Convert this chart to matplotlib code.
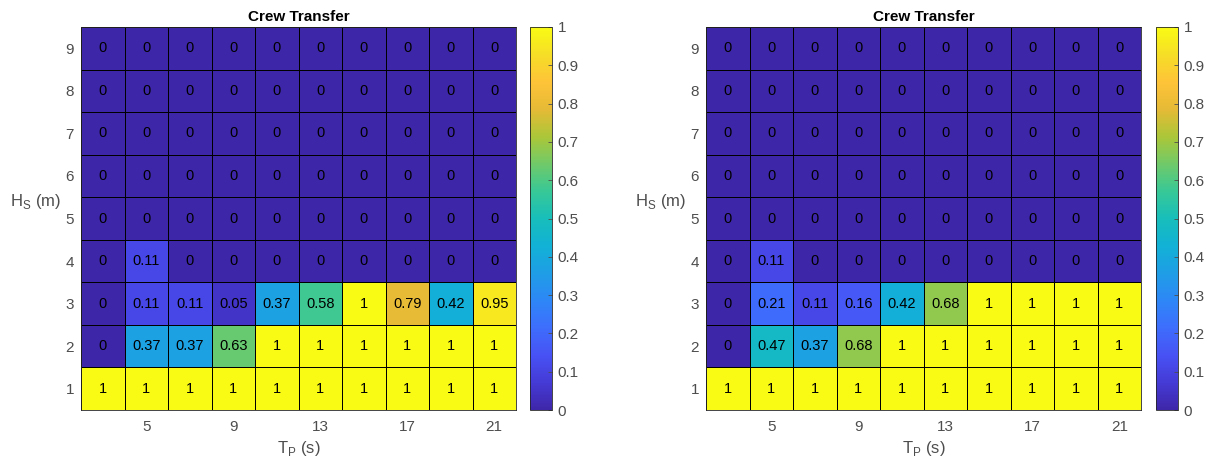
import numpy as np
import matplotlib
matplotlib.use("Agg")
import matplotlib.pyplot as plt
from matplotlib.colors import LinearSegmentedColormap

# ---- data ----
tp = [3, 5, 7, 9, 11, 13, 15, 17, 19, 21]          # T_P (s) columns
hs = [1, 2, 3, 4, 5, 6, 7, 8, 9]                   # H_S (m) rows
xticks = [5, 9, 13, 17, 21]
title = "Crew Transfer"

# rows from Hs=1 (bottom) upward
left_vals = [
    [1, 1, 1, 1, 1, 1, 1, 1, 1, 1],
    [0, 0.37, 0.37, 0.63, 1, 1, 1, 1, 1, 1],
    [0, 0.11, 0.11, 0.05, 0.37, 0.58, 1, 0.79, 0.42, 0.95],
    [0, 0.11, 0, 0, 0, 0, 0, 0, 0, 0],
    [0, 0, 0, 0, 0, 0, 0, 0, 0, 0],
    [0, 0, 0, 0, 0, 0, 0, 0, 0, 0],
    [0, 0, 0, 0, 0, 0, 0, 0, 0, 0],
    [0, 0, 0, 0, 0, 0, 0, 0, 0, 0],
    [0, 0, 0, 0, 0, 0, 0, 0, 0, 0],
]
right_vals = [
    [1, 1, 1, 1, 1, 1, 1, 1, 1, 1],
    [0, 0.47, 0.37, 0.68, 1, 1, 1, 1, 1, 1],
    [0, 0.21, 0.11, 0.16, 0.42, 0.68, 1, 1, 1, 1],
    [0, 0.11, 0, 0, 0, 0, 0, 0, 0, 0],
    [0, 0, 0, 0, 0, 0, 0, 0, 0, 0],
    [0, 0, 0, 0, 0, 0, 0, 0, 0, 0],
    [0, 0, 0, 0, 0, 0, 0, 0, 0, 0],
    [0, 0, 0, 0, 0, 0, 0, 0, 0, 0],
    [0, 0, 0, 0, 0, 0, 0, 0, 0, 0],
]

# ---- parula-like colormap ----
parula_anchors = [
    (0.000, (0.2422, 0.1504, 0.6603)),
    (0.071, (0.2700, 0.2300, 0.8400)),
    (0.143, (0.2810, 0.3228, 0.9579)),
    (0.214, (0.2400, 0.4300, 0.9900)),
    (0.286, (0.1786, 0.5289, 0.9682)),
    (0.357, (0.1200, 0.6200, 0.9000)),
    (0.429, (0.0689, 0.6948, 0.8394)),
    (0.500, (0.0900, 0.7450, 0.7300)),
    (0.571, (0.2161, 0.7843, 0.5923)),
    (0.643, (0.4400, 0.7900, 0.4100)),
    (0.714, (0.6720, 0.7793, 0.2227)),
    (0.786, (0.9000, 0.7300, 0.2100)),
    (0.857, (0.9970, 0.7659, 0.2199)),
    (0.929, (0.9650, 0.8700, 0.1500)),
    (1.000, (0.9769, 0.9839, 0.0805)),
]
parula = LinearSegmentedColormap.from_list("parula", parula_anchors, N=256)

tick_gray = (0.3, 0.3, 0.3)
plt.rcParams['font.family'] = ['Liberation Sans', 'DejaVu Sans']
plt.rcParams['mathtext.fontset'] = 'custom'
plt.rcParams['mathtext.rm'] = 'Liberation Sans'

W, H = 1212, 463
fig = plt.figure(figsize=(W / 100, H / 100), dpi=100)

def fx(px):
    return px / W

def fy(py):
    return 1 - py / H

def draw(vals, ax_px, cb_px):
    x0, x1 = ax_px
    ax = fig.add_axes([fx(x0), fy(410), fx(x1 - x0), fy(27) - fy(410)])
    cax = fig.add_axes([fx(cb_px[0]), fy(410), fx(cb_px[1] - cb_px[0]), fy(27) - fy(410)])
    data = np.array(vals, dtype=float)
    tp_arr = np.array(tp, dtype=float)
    hs_arr = np.array(hs, dtype=float)
    xe = np.concatenate([tp_arr - 1, [tp_arr[-1] + 1]])
    ye = np.concatenate([hs_arr - 0.5, [hs_arr[-1] + 0.5]])
    mesh = ax.pcolormesh(xe, ye, data, cmap=parula, vmin=0, vmax=1,
                         edgecolors='black', linewidth=0.6)
    for i, h in enumerate(hs):
        for j, t in enumerate(tp):
            v = data[i, j]
            s = "%g" % v
            ax.text(t, h, s, ha='center', va='center', fontsize=10.5, color='black')
    ax.set_xlim(xe[0], xe[-1])
    ax.set_ylim(ye[0], ye[-1])
    ax.set_xticks(xticks)
    ax.set_yticks(hs)
    ax.tick_params(axis='x', length=0, labelsize=11, colors=tick_gray, pad=7)
    ax.tick_params(axis='y', length=0, labelsize=11, colors=tick_gray, pad=5)
    for sp in ax.spines.values():
        sp.set_color((0.15, 0.15, 0.15))
        sp.set_linewidth(0.6)
    ax.set_title(title, fontsize=11, fontweight='bold', color='black', pad=4)
    ax.set_xlabel("T$_\\mathrm{P}$ (s)", fontsize=12, color=tick_gray, labelpad=4)
    ax.set_ylabel("H$_\\mathrm{S}$ (m)", fontsize=12, color=tick_gray,
                  rotation=0, ha='right', va='center')
    ax.yaxis.set_label_coords(-0.045, 0.545)
    cb = fig.colorbar(mesh, cax=cax, ticks=np.linspace(0, 1, 11))
    cb.ax.set_yticklabels(["%g" % t for t in np.round(np.linspace(0, 1, 11), 1)])
    cb.ax.tick_params(direction='in', length=3, width=0.6, labelsize=11,
                      colors=tick_gray, pad=4)
    cb.outline.set_linewidth(0.6)
    cb.outline.set_edgecolor((0.15, 0.15, 0.15))

draw(left_vals, (81, 516), (530, 552))
draw(right_vals, (706, 1141), (1156, 1178))

fig.savefig("out.png", dpi=100)
